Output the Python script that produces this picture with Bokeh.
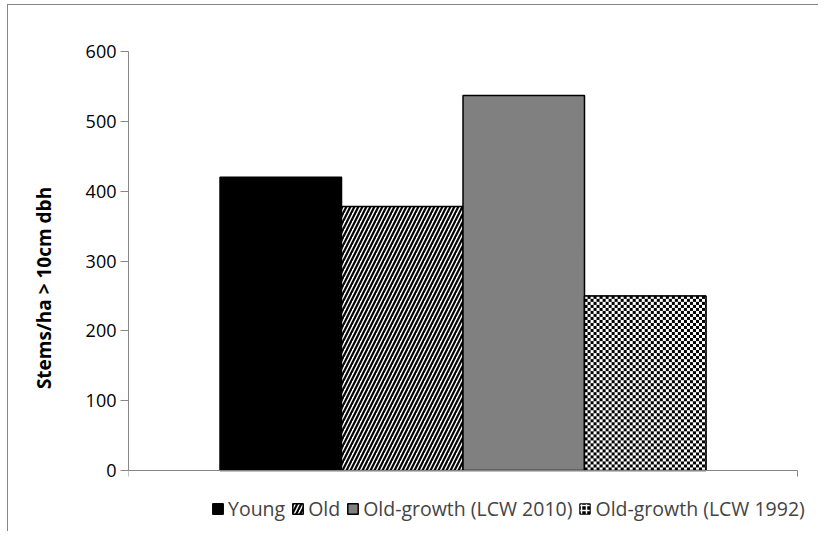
import numpy as np
from bokeh.plotting import figure
from bokeh.models import (ColumnDataSource, Range1d, FixedTicker, Legend, LegendItem)
from bokeh.embed import file_html
from bokeh.resources import INLINE

# ---- data ----
series = ["Young", "Old", "Old-growth (LCW 2010)", "Old-growth (LCW 1992)"]
values = [420, 378, 537, 250]
y_ticks = [0, 100, 200, 300, 400, 500, 600]
y_label = "Stems/ha > 10cm dbh"

# ---- styles / layout ----
font = "Open Sans"
axis_gray = "#868686"
YMAX = 600

W, H = 811, 527
ML, MR, MT, MB = 120, 0, 46, 8
FW, FH = W - ML - MR, H - MT - MB
PLOT_W = 669                      # pixels of the category axis
PLOT_H = 419                      # pixels between 0 and YMAX
below_px = FH - PLOT_H            # frame space under the zero line (legend area)
y_lo = -YMAX * below_px / PLOT_H
x_hi = FW / PLOT_W

p = figure(width=W, height=H, output_backend="svg", toolbar_location=None,
           x_range=Range1d(0, x_hi), y_range=Range1d(y_lo, YMAX),
           min_border_left=ML, min_border_right=MR, min_border_top=MT,
           min_border_bottom=MB)
p.styles = {"margin-left": "7px", "margin-top": "4px",
            "border-left": "1px solid #868686", "border-top": "1px solid #868686"}
p.outline_line_color = None
p.grid.visible = False

n = len(series)
bw = 0.1816
centers = [0.5 + (i - (n - 1) / 2) * bw for i in range(n)]

def src(i):
    return ColumnDataSource(dict(x=[centers[i]], top=[values[i]]))

r_young = p.vbar(x="x", top="top", width=bw, source=src(0), fill_color="black",
                 line_color="black", line_width=1.5)
r_old = p.vbar(x="x", top="top", width=bw, source=src(1), fill_color="white",
               line_color="black", line_width=1.5, hatch_pattern="/",
               hatch_color="black", hatch_scale=8, hatch_weight=2.2)
r_og10 = p.vbar(x="x", top="top", width=bw, source=src(2), fill_color="#808080",
                line_color="black", line_width=1.5)
# base bar for the 1992 series (also its legend swatch), covered by a checker texture
r_og92 = p.vbar(x="x", top="top", width=bw, source=src(3),
                fill_color="black", line_color="black", line_width=1,
                hatch_pattern="+", hatch_color="white", hatch_scale=5, hatch_weight=1.5)
nx = int(round(bw * PLOT_W))
ny = int(round(values[3] * PLOT_H / YMAX))
sq = 3
yy, xx = np.mgrid[0:ny, 0:nx]
tex = np.where(((xx // sq) + (yy // sq)) % 2 == 0, 0xFF000000, 0xFFFFFFFF).astype(np.uint32)
p.image_rgba(image=[tex], x=centers[3] - bw / 2, y=0, dw=bw, dh=values[3])
p.vbar(x="x", top="top", width=bw, source=src(3), fill_color=None,
       line_color="black", line_width=1.5)

# y axis
ya = p.yaxis[0]
ya.ticker = FixedTicker(ticks=y_ticks)
ya.bounds = (0, YMAX)
ya.minor_tick_line_color = None
ya.major_tick_in = 0
ya.major_tick_out = 8
ya.axis_line_color = axis_gray
ya.major_tick_line_color = axis_gray
ya.major_label_text_font = font
ya.major_label_text_font_size = "18px"
ya.major_label_text_color = "black"
ya.major_label_standoff = 4
ya.axis_label = y_label
ya.axis_label_text_font = font
ya.axis_label_text_font_style = "bold"
ya.axis_label_text_font_size = "19px"
ya.axis_label_text_color = "black"
ya.axis_label_standoff = 26

# x axis at the zero line (no labels)
xa = p.xaxis[0]
xa.fixed_location = 0
xa.bounds = (0, 1)
xa.ticker = FixedTicker(ticks=[0, 1])
xa.minor_tick_line_color = None
xa.major_tick_in = 0
xa.major_tick_out = 6
xa.axis_line_color = axis_gray
xa.major_tick_line_color = axis_gray
xa.major_label_text_font_size = "0px"
xa.major_label_text_color = None
xa.major_label_standoff = 0

legend = Legend(items=[LegendItem(label=s, renderers=[r])
                       for s, r in zip(series, [r_young, r_old, r_og10, r_og92])],
                orientation="horizontal", location=(83, 2),
                label_text_font=font, label_text_font_size="19.5px",
                glyph_width=13, glyph_height=13, label_standoff=4, spacing=6,
                padding=0, margin=0, border_line_color=None,
                background_fill_alpha=0, label_height=22)
p.add_layout(legend, "center")

open("out.html", "w").write(file_html(p, INLINE))
